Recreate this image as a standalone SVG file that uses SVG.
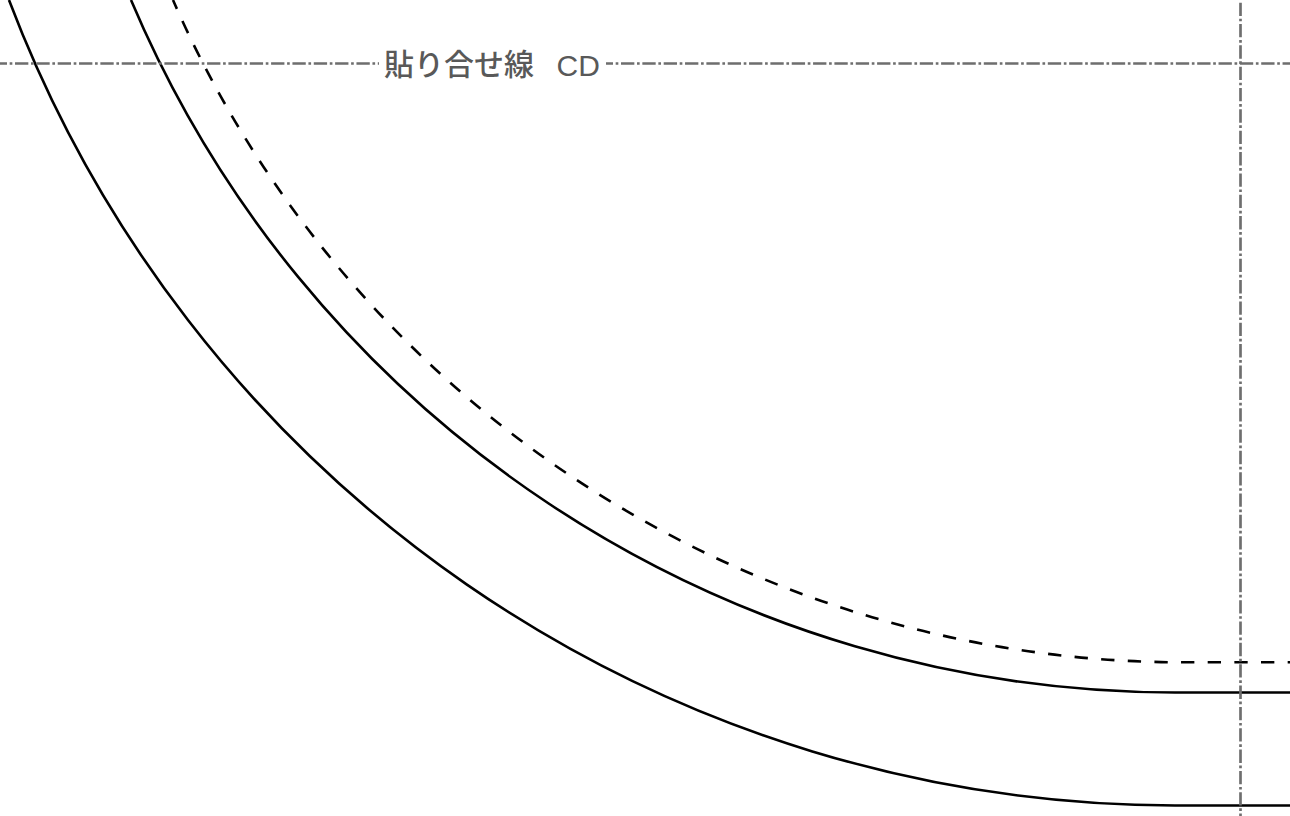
<svg xmlns="http://www.w3.org/2000/svg" width="1290" height="816" viewBox="0 0 1290 816">
<style>
.c{fill:none;stroke:#000;stroke-width:2.6}
.d{stroke-dasharray:13.33 13.33;stroke-dashoffset:11}
.g{fill:none;stroke:#6e6e6e;stroke-width:2.67;stroke-dasharray:13.33 2.67 2.67 2.67}
text{font-family:"Liberation Sans","Noto Sans CJK JP",sans-serif;font-size:30px;fill:#595959}
.k{font-family:"Noto Sans CJK JP",sans-serif;font-weight:500}
</style>
<rect width="1290" height="816" fill="#fff"/>
<g id="connectors">
<path class="c" d="M1290 805.5H1175A1247.9 1247.9 0 0 1 9 0"/>
<path class="c" d="M1290 692.5H1175A1133.9 1133.9 0 0 1 131 0"/>
<path class="c d" d="M1290 662.3H1184A1103 1103 0 0 1 173 0"/>
<path class="g" style="stroke-dashoffset:6.33" d="M0 63.5H379"/>
<path class="g" style="stroke-dashoffset:6.33" d="M606 63.5H1290"/>
<path class="g" style="stroke-dashoffset:18.67" d="M1240.5 0V816"/>
</g>
<g id="label"><text class="k" x="384" y="75">貼り合せ線</text><text x="556.5" y="75.5">CD</text></g>
</svg>
